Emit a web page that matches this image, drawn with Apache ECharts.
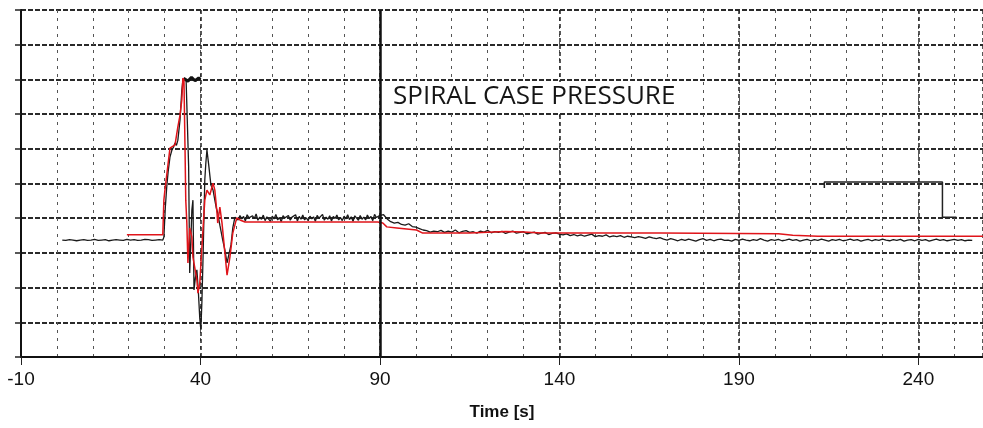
<!DOCTYPE html>
<html>
<head>
<meta charset="utf-8">
<script src="https://cdn.jsdelivr.net/npm/echarts@6/dist/echarts.min.js"></script>
<style>
  html, body { margin: 0; padding: 0; background: #fff; }
  #chart { width: 983px; height: 428px; }
</style>
</head>
<body>
<div id="chart"></div>
<script>
// Time axis (s) and recorder grid
const timeMin = -10;
const timeMax = 258;
const tickLabels = ['-10', '40', '90', '140', '190', '240'];

// Measured trace (black recorder pen), before the event: t = 1.5 .. 29.5 s, 1 s apart
const measuredPreStart = 1.5;
const measuredPreStep = 1;
const measuredPre = [3.37, 3.36, 3.38, 3.37, 3.35, 3.37, 3.38, 3.36, 3.37, 3.39,
  3.36, 3.37, 3.38, 3.35, 3.37, 3.38, 3.37, 3.36, 3.39, 3.37,
  3.38, 3.36, 3.37, 3.39, 3.38, 3.36, 3.37, 3.38, 3.37];

// Measured trace during the transient: [time, value]
const measuredTransient = [
  [29.8, 3.45], [30.2, 4.30], [30.6, 4.90], [31.0, 5.35], [31.5, 5.76], [32.0, 5.95],
  [32.5, 6.05], [32.9, 6.17], [33.3, 6.10], [33.7, 6.25], [34.3, 6.83], [34.8, 7.69],
  [35.1, 7.98], [35.5, 8.03], [36.0, 7.97], [36.5, 8.00], [36.7, 5.50], [37.0, 2.42],
  [37.3, 3.30], [37.6, 4.24], [37.9, 4.52], [38.2, 1.93], [38.6, 2.30], [39.0, 2.51],
  [39.4, 1.90], [39.8, 1.12], [40.1, 0.78], [40.4, 1.60], [40.7, 2.80], [41.0, 4.20],
  [41.2, 5.10], [41.5, 5.60], [41.8, 5.97], [42.3, 5.53], [42.9, 4.96], [43.5, 4.81],
  [44.0, 4.52], [44.4, 4.30], [44.8, 4.15], [45.4, 3.80], [46.2, 3.37], [46.8, 3.08],
  [47.4, 2.71], [47.9, 2.74], [48.5, 3.23], [49.0, 3.72], [49.6, 4.03]
];

// Measured trace on the plateau: t = 50 .. 90 s, 0.5 s apart
const measuredPlateauStart = 50;
const measuredPlateauStep = 0.5;
const measuredPlateau = [
  4.02, 3.95, 4.08, 3.98, 4.05, 3.92, 4.10, 4.01, 3.96, 4.07,
  3.99, 4.12, 3.94, 4.03, 3.97, 4.09, 3.93, 4.04, 4.00, 3.91,
  4.06, 3.98, 4.11, 3.95, 4.02, 3.90, 4.07, 4.01, 3.96, 4.08,
  3.94, 4.03, 3.99, 4.10, 3.92, 4.05, 3.97, 4.09, 3.95, 4.01,
  3.93, 4.06, 3.98, 4.04, 3.91, 4.08, 4.00, 3.96, 4.11, 3.94,
  4.03, 3.97, 4.07, 3.92, 4.05, 3.99, 4.09, 3.95, 4.02, 3.93,
  4.06, 3.98, 4.10, 3.96, 4.04, 3.91, 4.07, 4.00, 3.94, 4.08,
  3.97, 4.03, 3.95, 4.09, 3.99, 4.05, 3.93, 4.11, 4.02, 4.06, 4.08
];

// Measured trace after the plateau: t = 91 .. 255 s, 1 s apart
const measuredTailStart = 91;
const measuredTailStep = 1;
const measuredTail = [
  4.10, 3.98, 3.90, 3.86, 3.88, 3.82, 3.80, 3.84, 3.76, 3.74, 3.70, 3.66, 3.64, 3.60, 3.63,
  3.61, 3.65, 3.59, 3.63, 3.60, 3.66, 3.58, 3.62, 3.64, 3.59,
  3.61, 3.57, 3.63, 3.60, 3.65, 3.58, 3.61, 3.59, 3.62, 3.56,
  3.60, 3.63, 3.57, 3.59, 3.61, 3.55, 3.58, 3.60, 3.54, 3.57,
  3.59, 3.53, 3.56, 3.58, 3.54,
  3.52, 3.55, 3.50, 3.53, 3.49, 3.52, 3.48, 3.51, 3.54, 3.47,
  3.50, 3.48, 3.52, 3.46, 3.49, 3.47, 3.50, 3.45, 3.48, 3.46,
  3.44, 3.47, 3.45, 3.42, 3.46, 3.43, 3.41, 3.44,
  3.40, 3.37, 3.41, 3.38, 3.35, 3.39, 3.36, 3.40, 3.37, 3.34,
  3.38, 3.41, 3.36, 3.39, 3.35, 3.38, 3.40, 3.36, 3.37, 3.34,
  3.39, 3.36, 3.40, 3.37, 3.35, 3.38, 3.36, 3.41, 3.37, 3.34,
  3.38, 3.36, 3.39, 3.35, 3.37, 3.40, 3.36, 3.38, 3.34, 3.37,
  3.39, 3.35, 3.38, 3.36, 3.40, 3.37, 3.34, 3.38, 3.36, 3.39,
  3.35, 3.37, 3.40, 3.36, 3.38, 3.34, 3.37, 3.39, 3.35, 3.38,
  3.36, 3.40, 3.37, 3.35, 3.38, 3.36, 3.39, 3.34, 3.37, 3.38,
  3.35, 3.39, 3.36, 3.38, 3.34, 3.37, 3.40, 3.36, 3.38, 3.35,
  3.37, 3.39, 3.36, 3.38, 3.35, 3.37, 3.36
];

// Pen resting at the upper stop during the peak
const penStop = [[35.3, 8.03], [36.5, 7.95], [37.5, 8.06], [38.5, 7.96], [39.5, 8.04], [40.0, 8.00]];

// Second recorder pen, visible at the right of the sheet
const secondPen = [[213.8, 4.87], [213.8, 5.04], [246.7, 5.04], [246.7, 4.03], [250.6, 4.03]];

// Simulated trace (red): times and values
const simTimes = [19.5, 29.5, 29.8, 30.1, 31.5, 32.0, 32.9, 33.7, 34.3, 34.8, 35.1, 35.4,
  35.7, 35.9, 36.2, 36.5, 37.0, 37.6, 37.9, 39.0, 39.3, 39.8, 40.4, 41.2, 41.8, 42.6,
  43.5, 44.0, 44.6, 44.8, 45.4, 46.0, 46.8, 47.4, 48.2, 49.0, 50.1, 51.0, 52.4, 89.4,
  90.8, 91.9, 94.7, 100.2, 101.9, 115.0, 125.0, 130.0, 135.0, 168.0, 201.0, 205.0, 212.0, 258.0];
const simValues = [3.52, 3.52, 4.52, 4.81, 6.02, 5.97, 6.11, 6.63, 6.97, 7.41, 8.04, 7.98,
  5.97, 4.52, 3.86, 2.71, 3.72, 3.46, 2.88, 2.22, 1.84, 2.13, 3.17, 4.52, 4.81, 4.67,
  5.01, 4.81, 4.15, 3.86, 4.32, 3.86, 3.00, 2.36, 2.88, 3.57, 4.01, 3.95, 3.89, 3.89,
  3.86, 3.75, 3.72, 3.66, 3.57, 3.57, 3.62, 3.60, 3.57, 3.57, 3.55, 3.51, 3.48, 3.48];

// Event marker line on the sheet
const eventTime = 90;

function stepped(start, step, values) {
  return values.map((v, i) => [start + i * step, v]);
}

const measured = []
  .concat(stepped(measuredPreStart, measuredPreStep, measuredPre))
  .concat(measuredTransient)
  .concat(stepped(measuredPlateauStart, measuredPlateauStep, measuredPlateau))
  .concat(stepped(measuredTailStart, measuredTailStep, measuredTail));

const simulated = simTimes.map((t, i) => [t, simValues[i]]);

const chart = echarts.init(document.getElementById('chart'), null, { renderer: 'canvas' });

const labelFont = "'Liberation Sans Narrow', 'Arial Narrow', 'Liberation Sans', Arial, sans-serif";

chart.setOption({
  animation: false,
  backgroundColor: '#fff',
  title: {
    text: 'SPIRAL CASE PRESSURE',
    left: 388,
    top: 82,
    padding: [2, 20, 2, 5],
    backgroundColor: '#fff',
    textStyle: {
      fontFamily: "'Open Sans', 'Noto Sans', sans-serif",
      fontSize: 26,
      fontWeight: 'normal',
      color: '#151515'
    }
  },
  grid: {
    left: 21, right: 0, top: 10, bottom: 71,
    outerBoundsMode: 'none'
  },
  xAxis: [
    {
      // fine 10 s rulings, carries the data
      type: 'value',
      min: timeMin,
      max: timeMax,
      interval: 10,
      position: 'bottom',
      axisLine: { show: true, onZero: false, lineStyle: { color: '#111', width: 2 } },
      axisTick: { show: false },
      axisLabel: { show: false },
      splitLine: {
        show: true,
        lineStyle: { color: '#555', width: 1, type: [3, 5] }
      }
    },
    {
      // 50 s rulings with tick labels; counted from the left edge of the sheet
      type: 'value',
      min: 0,
      max: timeMax - timeMin,
      interval: 50,
      position: 'bottom',
      axisLine: { show: false, onZero: false },
      axisTick: { show: true, length: 8, lineStyle: { color: '#222', width: 1 } },
      axisLabel: {
        show: true,
        showMaxLabel: false,
        margin: 13,
        fontFamily: labelFont,
        fontSize: 19,
        color: '#111',
        formatter: (v) => tickLabels[Math.round(v / 50)] || ''
      },
      splitLine: {
        show: true,
        lineStyle: { color: '#222', width: 1.5, type: [4, 3] }
      },
      name: 'Time [s]',
      nameLocation: 'middle',
      nameGap: 47,
      nameTextStyle: {
        fontFamily: labelFont,
        fontSize: 17,
        fontWeight: 'bold',
        color: '#111'
      }
    }
  ],
  yAxis: {
    type: 'value',
    min: 0,
    max: 10,
    interval: 1,
    axisLine: { show: true, onZero: false, lineStyle: { color: '#111', width: 2 } },
    axisTick: { show: true, inside: false, length: 6, lineStyle: { color: '#222', width: 1.5 } },
    axisLabel: { show: false },
    splitLine: {
      show: true,
      lineStyle: { color: '#2a2a2a', width: 2, type: [5, 2] }
    }
  },
  series: [
    {
      name: 'Measured',
      type: 'line',
      xAxisIndex: 0,
      data: measured,
      symbol: 'none',
      lineStyle: { color: '#1a1a1a', width: 1.3 },
      z: 3,
      markLine: {
        silent: true,
        symbol: 'none',
        label: { show: false },
        lineStyle: { color: '#111', width: 2.5, type: 'solid' },
        data: [{ xAxis: eventTime }]
      }
    },
    {
      name: 'Pen stop',
      type: 'line',
      xAxisIndex: 0,
      data: penStop,
      symbol: 'none',
      lineStyle: { color: '#111', width: 3 },
      z: 3
    },
    {
      name: 'Second pen',
      type: 'line',
      xAxisIndex: 0,
      data: secondPen,
      symbol: 'none',
      lineStyle: { color: '#222', width: 1.5 },
      z: 3
    },
    {
      name: 'Simulated',
      type: 'line',
      xAxisIndex: 0,
      data: simulated,
      symbol: 'none',
      lineStyle: { color: '#e0141a', width: 1.5 },
      z: 4
    }
  ]
});
</script>
</body>
</html>
